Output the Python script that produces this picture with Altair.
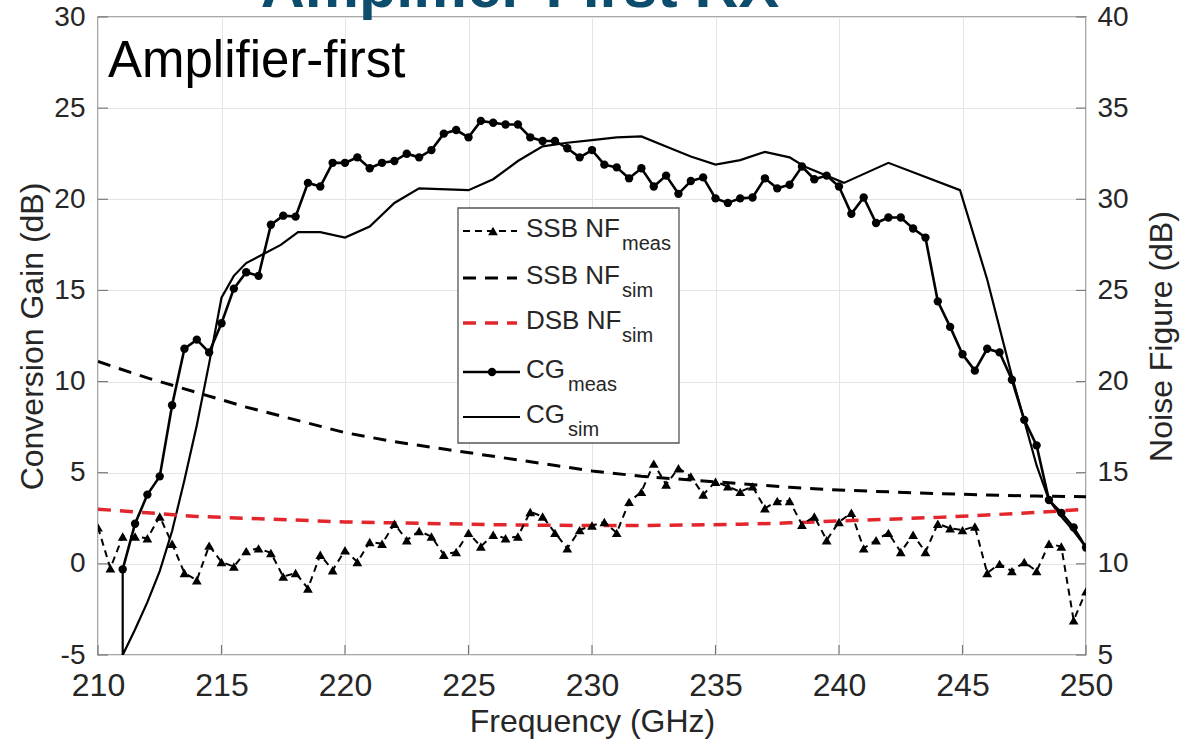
import altair as alt
import numpy as np
import pandas as pd

# ---------------- data ----------------
# Measured SSB noise figure, 210-250 GHz every 0.5 GHz (dB, right axis)
nf_meas_freq = np.arange(210.0, 250.01, 0.5)
nf_meas = [
    12.0, 9.76, 11.5, 11.5, 11.4, 12.6, 11.1, 9.5, 9.1, 11.0,
    10.1, 9.85, 10.7, 10.85, 10.6, 9.3, 9.5, 8.65, 10.5, 9.65,
    10.75, 10.1, 11.2, 11.1, 12.2, 11.3, 11.8, 11.5, 10.5, 10.65,
    11.7, 10.95, 11.6, 11.4, 11.5, 12.85, 12.6, 11.7, 10.85, 11.85,
    12.1, 12.3, 11.7, 13.4, 13.95, 15.5, 14.35, 15.25, 14.8, 13.8,
    14.5, 14.25, 13.95, 14.25, 13.05, 13.45, 13.45, 12.15, 12.6, 11.3,
    12.3, 12.8, 10.85, 11.3, 11.7, 10.65, 11.6, 10.65, 12.2, 11.95,
    11.85, 12.05, 9.5, 10.0, 9.6, 10.1, 9.6, 11.1, 10.95, 6.9,
    8.5,
]

# Measured conversion gain, 211-250 GHz every 0.5 GHz (dB, left axis)
cg_meas_freq = np.arange(211.0, 250.01, 0.5)
cg_meas = [
    -0.3, 2.2, 3.8, 4.8, 8.7, 11.8, 12.3, 11.6, 13.2, 15.1,
    16.0, 15.8, 18.6, 19.1, 19.05, 20.9, 20.7, 22.0, 22.0, 22.3,
    21.7, 22.0, 22.1, 22.5, 22.3, 22.7, 23.6, 23.8, 23.4, 24.3,
    24.2, 24.1, 24.1, 23.4, 23.2, 23.2, 22.8, 22.3, 22.7, 21.9,
    21.75, 21.15, 21.7, 20.7, 21.3, 20.3, 21.0, 21.2, 20.05, 19.8,
    20.05, 20.1, 21.15, 20.6, 20.8, 21.8, 21.1, 21.3, 20.7, 19.2,
    20.1, 18.7, 19.0, 19.0, 18.4, 17.9, 14.4, 13.0, 11.5, 10.6,
    11.8, 11.6, 10.1, 7.9, 6.5, 3.5, 2.8, 2.0, 0.9,
]

# Simulated conversion gain (dB, left axis)
cg_sim_freq = [
    211.0, 211.0, 211.5, 212.0, 212.5, 213.0, 213.5, 214.0, 214.5, 215.0,
    215.5, 216.0, 216.7, 217.4, 218.1, 219.0, 220.0, 221.0, 222.0, 223.0,
    225.0, 226.0, 227.0, 228.0, 229.0, 230.0, 231.0, 232.0, 233.0, 234.0,
    235.0, 236.0, 237.0, 238.0, 238.6, 240.2, 242.0, 244.9, 246.0, 247.0,
    248.0, 248.5, 249.0, 249.5, 250.0,
]
cg_sim = [
    -0.3, -5.0, -3.6, -2.1, -0.4, 1.8, 4.6, 7.6, 11.0, 14.6,
    15.8, 16.5, 17.0, 17.5, 18.2, 18.2, 17.9, 18.5, 19.8, 20.6,
    20.5, 21.1, 22.1, 22.9, 23.1, 23.25, 23.4, 23.45, 22.9, 22.35,
    21.9, 22.15, 22.6, 22.3, 21.8, 20.9, 22.0, 20.5, 15.6, 10.3,
    5.4, 3.5, 2.6, 1.8, 0.9,
]

# Simulated noise figures (dB, right axis)
nf_sim_freq = [210, 212, 214, 216, 218, 220, 222, 224, 226, 228, 230,
               232, 234, 236, 238, 240, 242, 244, 246, 248, 250]
ssb_nf_sim = [21.1, 20.2, 19.4, 18.6, 17.9, 17.2, 16.7, 16.3, 15.9, 15.5, 15.1,
              14.8, 14.6, 14.4, 14.2, 14.05, 13.95, 13.85, 13.78, 13.72, 13.68]
dsb_nf_sim = [13.0, 12.8, 12.6, 12.5, 12.4, 12.3, 12.25, 12.2, 12.15, 12.12, 12.1,
              12.1, 12.13, 12.17, 12.25, 12.35, 12.45, 12.55, 12.68, 12.82, 13.0]

x_ticks = [210, 215, 220, 225, 230, 235, 240, 245, 250]
cg_ticks = [-5, 0, 5, 10, 15, 20, 25, 30]
nf_ticks = [5, 10, 15, 20, 25, 30, 35, 40]

legend_rows = ["SSB NF", "SSB NF", "DSB NF", "CG", "CG"]
legend_subs = ["meas", "sim", "sim", "meas", "sim"]

# ---------------- styling ----------------
W, H = 988, 638
FONT = "Liberation Sans"
INK = "#262626"
RED = "#e3262c"
TITLE_BLUE = "#0c4c6c"
PLAIN = "'' + datum.value"   # keep an ASCII hyphen for negative numbers

x_scale = alt.Scale(domain=[210, 250], nice=False, zero=False)
cg_scale = alt.Scale(domain=[-5, 30], nice=False, zero=False)
nf_scale = alt.Scale(domain=[5, 40], nice=False, zero=False)

x_axis = alt.Axis(values=x_ticks, title="Frequency (GHz)", grid=True,
                  labelFlush=False, labelOverlap=False, labelExpr=PLAIN,
                  labelFontSize=32, labelPadding=15,
                  titleX=W / 2, titleY=66,
                  titleBaseline="middle", titleAlign="center")
cg_axis = alt.Axis(values=cg_ticks, title="Conversion Gain (dB)", grid=True,
                   orient="left", labelOverlap=False, labelExpr=PLAIN,
                   labelPadding=13, titleX=-66, titleY=H / 2,
                   titleAngle=270, titleAlign="center", titleBaseline="middle")
nf_axis = alt.Axis(values=nf_ticks, title="Noise Figure (dB)", grid=False,
                   orient="right", labelOverlap=False, labelExpr=PLAIN,
                   labelPadding=11, titleX=75, titleY=H / 2,
                   titleAngle=270, titleAlign="center", titleBaseline="middle")

X = lambda field: alt.X(field, scale=x_scale, axis=x_axis)
Y_CG = lambda field: alt.Y(field, scale=cg_scale, axis=cg_axis)
Y_NF = lambda field: alt.Y(field, scale=nf_scale, axis=nf_axis)

# ---------------- frames ----------------
cg_meas_df = pd.DataFrame({"f": cg_meas_freq, "cg": cg_meas})
cg_sim_df = pd.DataFrame({"f": cg_sim_freq, "cg": cg_sim,
                          "k": list(range(len(cg_sim)))})
nf_meas_df = pd.DataFrame({"f": nf_meas_freq, "nf": nf_meas})
nf_sim_df = pd.DataFrame({"f": nf_sim_freq, "ssb": ssb_nf_sim, "dsb": dsb_nf_sim})
xt_df = pd.DataFrame({"f": x_ticks})
cgt_df = pd.DataFrame({"cg": cg_ticks})
nft_df = pd.DataFrame({"nf": nf_ticks})
one = pd.DataFrame({"a": [0]})

# ---------------- left axis: conversion gain ----------------
cg_sim_line = alt.Chart(cg_sim_df).mark_line(
    color="black", strokeWidth=2.2, clip=True
).encode(x=X("f:Q"), y=Y_CG("cg:Q"), order="k:Q")
cg_meas_line = alt.Chart(cg_meas_df).mark_line(
    color="black", strokeWidth=2.6, clip=True
).encode(x=X("f:Q"), y=Y_CG("cg:Q"))
cg_meas_pts = alt.Chart(cg_meas_df).mark_point(
    shape="circle", filled=True, color="black", size=70, opacity=1, clip=True
).encode(x=X("f:Q"), y=Y_CG("cg:Q"))
# inward tick marks on the left and bottom edges
left_ticks = alt.Chart(cgt_df).mark_rule(color="#7a7a7a", strokeWidth=1.2).encode(
    y=Y_CG("cg:Q"), x=alt.value(0), x2=alt.value(10),
)
bottom_ticks = alt.Chart(xt_df).mark_rule(color="#7a7a7a", strokeWidth=1.2).encode(
    x=X("f:Q"), y=alt.value(H), y2=alt.value(H - 10),
)
left_group = alt.layer(cg_sim_line, cg_meas_line, cg_meas_pts, left_ticks, bottom_ticks)

# ---------------- right axis: noise figure ----------------
ssb_sim_line = alt.Chart(nf_sim_df).mark_line(
    color="black", strokeWidth=3, strokeDash=[13, 9], clip=True
).encode(x=X("f:Q"), y=Y_NF("ssb:Q"))
dsb_sim_line = alt.Chart(nf_sim_df).mark_line(
    color=RED, strokeWidth=3.5, strokeDash=[13, 9], clip=True
).encode(x=X("f:Q"), y=Y_NF("dsb:Q"))
nf_meas_line = alt.Chart(nf_meas_df).mark_line(
    color="black", strokeWidth=2, strokeDash=[7, 5], clip=True
).encode(x=X("f:Q"), y=Y_NF("nf:Q"))
nf_meas_pts = alt.Chart(nf_meas_df).mark_point(
    shape="triangle-up", filled=True, color="black", size=95, opacity=1, clip=True
).encode(x=X("f:Q"), y=Y_NF("nf:Q"))
right_ticks = alt.Chart(nft_df).mark_rule(color="#7a7a7a", strokeWidth=1.2).encode(
    y=Y_NF("nf:Q"), x=alt.value(W), x2=alt.value(W - 10),
)
right_group = alt.layer(ssb_sim_line, dsb_sim_line, nf_meas_line, nf_meas_pts, right_ticks)

# ---------------- annotations ----------------
slide_title = alt.Chart(one).mark_text(
    text="Amplifier-First RX", font=FONT, fontSize=61, fontWeight="bold",
    color=TITLE_BLUE, align="center", baseline="alphabetic"
).encode(x=alt.value(422), y=alt.value(-10))

panel_label = alt.Chart(one).mark_text(
    text="Amplifier-first", font=FONT, fontSize=51, color="black",
    align="left", baseline="alphabetic"
).encode(x=alt.value(10), y=alt.value(60))

# legend box
LX0, LX1, LY0, LY1 = 360, 581, 191, 426
legend_box = alt.Chart(one).mark_rect(
    fill="white", stroke="#555555", strokeWidth=1.3
).encode(x=alt.value(LX0), x2=alt.value(LX1), y=alt.value(LY0), y2=alt.value(LY1))

row_base = [220, 267, 312, 361, 406]
sample_styles = [
    dict(color="black", strokeWidth=2, strokeDash=[7, 5]),
    dict(color="black", strokeWidth=3, strokeDash=[13, 9]),
    dict(color=RED, strokeWidth=3.5, strokeDash=[13, 9]),
    dict(color="black", strokeWidth=2.6),
    dict(color="black", strokeWidth=2.2),
]
legend_layers = [legend_box]
for i, (lab, sub) in enumerate(zip(legend_rows, legend_subs)):
    yb = row_base[i]
    x_end = 419 if i < 3 else 422
    legend_layers.append(
        alt.Chart(one).mark_rule(**sample_styles[i]).encode(
            x=alt.value(365), x2=alt.value(x_end), y=alt.value(yb - 6)
        )
    )
    legend_layers.append(
        alt.Chart(one).mark_text(
            text=lab, font=FONT, fontSize=26, color=INK,
            align="left", baseline="alphabetic"
        ).encode(x=alt.value(428), y=alt.value(yb))
    )
    sub_x = 524 if i < 3 else 470
    legend_layers.append(
        alt.Chart(one).mark_text(
            text=sub, font=FONT, fontSize=20, color=INK,
            align="left", baseline="alphabetic"
        ).encode(x=alt.value(sub_x), y=alt.value(yb + 13))
    )
legend_layers.append(
    alt.Chart(one).mark_point(shape="triangle-up", filled=True, color="black",
                              size=95, opacity=1).encode(
        x=alt.value(395), y=alt.value(row_base[0] - 6))
)
legend_layers.append(
    alt.Chart(one).mark_point(shape="circle", filled=True, color="black",
                              size=70, opacity=1).encode(
        x=alt.value(394), y=alt.value(row_base[3] - 6))
)

chart = alt.layer(
    left_group, right_group, panel_label, slide_title, *legend_layers
).resolve_scale(
    y="independent"
).properties(
    width=W, height=H,
    autosize=alt.AutoSizeParams(type="none"),
    padding={"left": 98, "top": 17, "right": 95, "bottom": 92},
).configure_view(
    stroke="#8a8a8a", strokeWidth=1.5
).configure_axis(
    domain=False, ticks=False,
    gridColor="#e4e4e4", gridWidth=1,
    labelFont=FONT, labelFontSize=28, labelColor=INK,
    titleFont=FONT, titleFontSize=32, titleColor=INK, titleFontWeight="normal",
)

chart.save("out.html", embed_options={"renderer": "svg", "actions": False})
